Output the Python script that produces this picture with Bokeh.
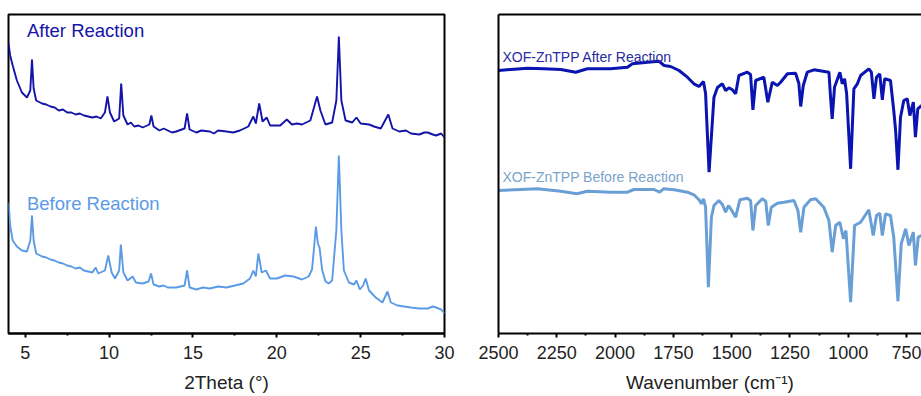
from bokeh.plotting import figure
from bokeh.layouts import row
from bokeh.models import Range1d, FixedTicker, Label, LinearAxis
from bokeh.embed import file_html
from bokeh.resources import INLINE

# ---------------- XRD data (2Theta in degrees, intensity a.u.) ----------------
xrd_after_2theta = [4.0, 4.1, 4.25, 4.5, 4.8, 5.1, 5.3, 5.4, 5.5, 5.65, 6.0, 6.25, 6.5, 6.75, 7.0, 7.25, 7.5,
                    7.75, 8.0, 8.25, 8.5, 8.75, 9.0, 9.25, 9.5, 9.75, 9.9, 10.05, 10.3, 10.6, 10.72, 10.85, 11.1,
                    11.3, 11.5, 11.75, 12.0, 12.4, 12.52, 12.65, 13.0, 13.25, 13.5, 13.75, 14.0, 14.5, 14.65, 14.8,
                    15.2, 15.5, 16.0, 16.25, 16.5, 17.0, 17.4, 17.8, 18.3, 18.6, 18.75, 18.95, 19.15, 19.4, 19.6,
                    20.2, 20.6, 20.9, 21.2, 21.5, 22.0, 22.25, 22.4, 22.6, 22.9, 23.3, 23.55, 23.7, 23.85, 24.1,
                    24.5, 24.75, 25.0, 25.5, 25.8, 26.2, 26.65, 26.9, 27.3, 27.7, 28.0, 28.5, 28.8, 29.0, 29.3,
                    29.5, 29.8, 30.0]
xrd_after_int = [290, 278, 268, 253, 241, 236, 243, 274, 245, 233, 230, 229, 227, 226, 223, 224, 221,
                 221, 219, 220, 218, 217, 216, 217, 215, 221, 237, 221, 212, 215, 250, 218, 209,
                 211, 207, 208, 206, 209, 218, 207, 203, 205, 203, 201, 202, 205, 220, 204,
                 201, 203, 202, 200, 203, 202, 201, 203, 207, 217, 210, 230, 212, 216, 208,
                 208, 214, 209, 210, 209, 213, 228, 237, 223, 209, 211, 233, 297, 233, 213,
                 211, 216, 210, 209, 207, 205, 219, 205, 202, 203, 200, 199, 201, 201, 199,
                 198, 200, 196]

xrd_before_2theta = [4.0, 4.1, 4.25, 4.5, 4.8, 5.1, 5.3, 5.4, 5.5, 5.65, 6.0, 6.25, 6.5, 6.75, 7.0, 7.25, 7.5,
                     7.75, 8.0, 8.25, 8.5, 8.75, 9.0, 9.2, 9.35, 9.75, 9.95, 10.15, 10.35, 10.6, 10.7, 10.85,
                     11.1, 11.4, 11.6, 12.0, 12.35, 12.5, 12.65, 13.0, 13.25, 13.5, 14.0, 14.5, 14.65, 14.8,
                     15.2, 15.6, 16.0, 16.5, 17.0, 17.5, 18.0, 18.4, 18.6, 18.75, 18.9, 19.1, 19.35, 19.6,
                     20.0, 20.5, 21.0, 21.5, 21.9, 22.1, 22.2, 22.33, 22.45, 22.55, 22.7, 22.9, 23.1, 23.3,
                     23.55, 23.7, 23.85, 24.0, 24.3, 24.6, 24.75, 24.95, 25.15, 25.3, 25.5, 25.9, 26.3, 26.6,
                     26.8, 27.2, 27.6, 28.0, 28.5, 29.0, 29.3, 29.5, 29.8, 30.0]
xrd_before_int = [131, 108, 93, 87, 83, 82, 93, 118, 93, 80, 77, 76, 74, 73, 71, 70, 68,
                  67, 65, 66, 63, 62, 61, 66, 60, 63, 78, 61, 55, 63, 89, 61,
                  53, 57, 51, 50, 52, 60, 49, 47, 48, 46, 46, 48, 63, 46,
                  44, 46, 45, 47, 46, 48, 50, 55, 63, 57, 80, 61, 63, 55,
                  55, 58, 57, 54, 57, 64, 82, 107, 90, 86, 64, 52, 50, 53,
                  103, 178, 103, 63, 51, 49, 53, 44, 48, 55, 43, 36, 31, 42,
                  31, 28, 27, 26, 25, 25, 27, 26, 24, 20]

# ---------------- FTIR data (wavenumber cm-1, transmittance a.u.) ----------------
ftir_after_wn = [2500, 2447, 2376, 2305, 2233, 2169, 2119, 2019, 1947, 1926, 1861, 1812, 1790, 1762, 1726,
                 1690, 1662, 1640, 1621, 1612, 1597, 1576, 1561, 1540, 1526, 1512, 1497, 1483, 1469, 1433,
                 1419, 1409, 1397, 1362, 1345, 1326, 1304, 1290, 1261, 1226, 1212, 1204, 1193, 1176, 1147,
                 1083, 1076, 1069, 1059, 1036, 1026, 1016, 1007, 990, 976, 961, 947, 912, 901, 890, 879,
                 865, 854, 844, 819, 805, 797, 787, 776, 762, 747, 736, 721, 712, 702, 686, 670]
ftir_after_t = [263, 264, 265.3, 264.7, 264, 261.3, 264.7, 264.7, 266.3, 269.7, 271.3, 272.3, 268, 267, 263,
                256.3, 249.7, 247, 252, 240, 161.3, 236.3, 246, 249.7, 243, 245.7, 243.7, 239.7, 258, 261.3,
                259, 223.7, 253, 256.3, 231.3, 251.3, 248, 251.3, 259.7, 260.3, 250, 227, 248, 261.3, 263.7,
                261.3, 236.3, 214.7, 246.3, 261.3, 249.7, 254.7, 239.7, 164.7, 244.7, 249.7, 258, 264.7, 261.3,
                234.7, 256.3, 259.7, 233.7, 254.7, 253, 223, 203, 163.7, 216.3, 233, 234.7, 218, 231.3, 196.3,
                224.7, 228, 223]

ftir_before_wn = [2500, 2404, 2333, 2233, 2164, 2119, 2019, 1947, 1919, 1833, 1809, 1792, 1747, 1690, 1662,
                  1640, 1630, 1621, 1612, 1600, 1587, 1576, 1555, 1540, 1526, 1514, 1504, 1483, 1465, 1433,
                  1419, 1409, 1397, 1369, 1354, 1343, 1330, 1304, 1276, 1233, 1216, 1204, 1190, 1162, 1140,
                  1105, 1083, 1069, 1054, 1036, 1021, 1010, 990, 973, 947, 912, 893, 879, 865, 854, 840, 819,
                  805, 797, 787, 773, 754, 740, 721, 712, 700, 686, 670]
ftir_before_t = [143, 144, 144.7, 142.3, 139.7, 142.3, 141.3, 141.3, 144, 144, 141.3, 144.7, 143.7, 141.3, 138.7,
                 133.7, 129.7, 134.7, 126.3, 46.3, 116.3, 128, 133, 129, 121.3, 128, 124.7, 116.3, 133.7, 135.3,
                 133, 103, 128, 134.7, 132.3, 108, 126.3, 130.3, 131.3, 133, 123, 101.3, 126.3, 133.7, 134.7,
                 126.3, 113, 81.3, 108, 111.3, 94.7, 103, 31.3, 108, 111.3, 123.7, 98, 118, 120.3, 98, 119.7, 118,
                 96.3, 68, 32.3, 89.7, 104.7, 88, 101.3, 68, 96.3, 98, 100]

xrd_ticks = [5, 10, 15, 20, 25, 30]
xrd_minor = [7.5, 12.5, 17.5, 22.5, 27.5]
ftir_ticks = [2500, 2250, 2000, 1750, 1500, 1250, 1000, 750]
ftir_minor = [2375, 2125, 1875, 1625, 1375, 1125, 875]

FONT = "Liberation Sans"
C_AFTER_XRD = "#1414a8"
C_BEFORE_XRD = "#5b9be6"
C_AFTER_IR = "#0a14b0"
C_BEFORE_IR = "#6a9fd6"


def style_xaxis(ax, ticks, minor, title):
    ax.ticker = FixedTicker(ticks=ticks, minor_ticks=minor)
    ax.axis_label = title
    ax.axis_label_text_font = FONT
    ax.axis_label_text_font_size = "19px"
    ax.axis_label_text_font_style = "normal"
    ax.axis_label_text_color = "#222222"
    ax.axis_label_standoff = 10
    ax.major_label_text_font = FONT
    ax.major_label_text_font_size = "18px"
    ax.major_label_text_color = "#222222"
    ax.major_label_standoff = 8
    ax.axis_line_width = 2
    ax.axis_line_color = "black"
    ax.major_tick_in = 0
    ax.major_tick_out = 4
    ax.minor_tick_in = 0
    ax.minor_tick_out = 2
    ax.major_tick_line_width = 2
    ax.minor_tick_line_width = 2


# ---------------- Left: XRD ----------------
p1 = figure(width=460, height=396, x_range=Range1d(4, 30), y_range=Range1d(0, 319),
            output_backend="svg", toolbar_location=None, y_axis_location=None,
            min_border_left=8, min_border_right=16, min_border_top=14, min_border_bottom=63)
p1.grid.visible = False
p1.outline_line_color = "black"
p1.outline_line_width = 2
p1.outline_line_alpha = 1
style_xaxis(p1.xaxis[0], xrd_ticks, xrd_minor, "2Theta (°)")
p1.line(xrd_after_2theta, xrd_after_int, line_color=C_AFTER_XRD, line_width=1.9)
p1.line(xrd_before_2theta, xrd_before_int, line_color=C_BEFORE_XRD, line_width=1.9)
p1.add_layout(Label(x=5.1, y=303, text="After Reaction", text_font=FONT, text_font_size="18.5px",
                    text_color=C_AFTER_XRD, text_baseline="middle"))
p1.add_layout(Label(x=5.1, y=130, text="Before Reaction", text_font=FONT, text_font_size="18.5px",
                    text_color=C_BEFORE_XRD, text_baseline="middle"))

# ---------------- Right: FTIR ----------------
p2 = figure(width=461, height=396, x_range=Range1d(2500, 686), y_range=Range1d(0, 319),
            output_backend="svg", toolbar_location=None, y_axis_location="left",
            min_border_left=38, min_border_right=0, min_border_top=14, min_border_bottom=63)
p2.grid.visible = False
p2.outline_line_color = None
style_xaxis(p2.xaxis[0], ftir_ticks, ftir_minor, "Wavenumber (cm\u207b\u00b9)")
ya = p2.yaxis[0]
ya.ticker = FixedTicker(ticks=[])
ya.major_tick_out = 0
ya.minor_tick_out = 0
ya.major_label_text_font_size = "0px"
ya.axis_line_width = 2
ya.axis_line_color = "black"
top = LinearAxis(ticker=FixedTicker(ticks=[]), major_tick_out=0, minor_tick_out=0,
                 major_label_text_font_size="0px", axis_line_width=2, axis_line_color="black")
p2.add_layout(top, "above")
p2.line(ftir_after_wn, ftir_after_t, line_color=C_AFTER_IR, line_width=3)
p2.line(ftir_before_wn, ftir_before_t, line_color=C_BEFORE_IR, line_width=3)
p2.add_layout(Label(x=2483, y=277, text="XOF-ZnTPP After Reaction", text_font=FONT, text_font_size="14px",
                    text_color="#2a2aa0", text_baseline="middle"))
p2.add_layout(Label(x=2483, y=157, text="XOF-ZnTPP Before Reaction", text_font=FONT, text_font_size="14px",
                    text_color="#7aa3cc", text_baseline="middle"))

layout = row(p1, p2)
open("out.html", "w").write(file_html(layout, INLINE))
